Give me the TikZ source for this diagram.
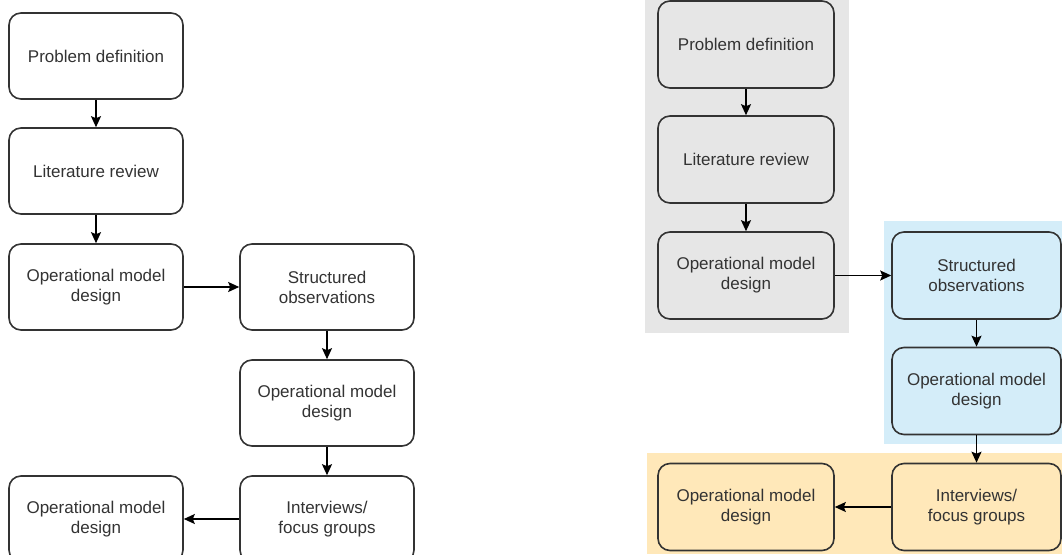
\documentclass[tikz,border=0pt]{standalone}
\usepackage{fontspec}
\setmainfont{Liberation Sans}
\usetikzlibrary{arrows.meta}

\definecolor{inkgray}{HTML}{333333}
\definecolor{bggray}{HTML}{E6E6E6}
\definecolor{bgblue}{HTML}{D4EDF9}
\definecolor{bgyellow}{HTML}{FFE8B9}

\tikzset{
  stepbox/.style={draw=inkgray, line width=1.6pt, rounded corners=12pt,
    text=inkgray, align=center, inner sep=0pt,
    font=\fontsize{17}{20}\selectfont},
  leftbox/.style={stepbox, minimum width=174pt, minimum height=86pt},
  rightbox/.style={stepbox, minimum width=176pt, minimum height=87pt},
  rightbox2/.style={stepbox, minimum width=169pt, minimum height=87pt},
  flow/.style={draw=black, line width=1.5pt,
    -{Stealth[length=11pt, width=10pt, inset=2pt]}},
}

\begin{document}
\begin{tikzpicture}[x=1pt, y=-1pt]
  \useasboundingbox (0,0) rectangle (1062,554);
  \clip (0,0) rectangle (1062,554);
  \fill[white] (0,0) rectangle (1062,554);

  % ---- plain version of the process ----
  \node[leftbox] (l1) at (96,56)  {Problem definition};
  \node[leftbox] (l2) at (96,171) {Literature review};
  \node[leftbox] (l3) at (96,287) {Operational model\\design};
  \node[leftbox] (l4) at (327,287) {Structured\\observations};
  \node[leftbox] (l5) at (327,403) {Operational model\\design};
  \node[leftbox] (l6) at (327,519) {Interviews/\\focus groups};
  \node[leftbox] (l7) at (96,519) {Operational model\\design};

  \draw[flow] (l1) -- (l2);
  \draw[flow] (l2) -- (l3);
  \draw[flow] (l3) -- (l4);
  \draw[flow] (l4) -- (l5);
  \draw[flow] (l5) -- (l6);
  \draw[flow] (l6) -- (l7);

  % ---- phase-shaded version ----
  \fill[bggray]   (645,0)   rectangle (849,333);
  \fill[bgblue]   (884,221) rectangle (1062,444);
  \fill[bgyellow] (647,453) rectangle (1062,554);

  \node[rightbox] (r1) at (746,44.5)  {Problem definition};
  \node[rightbox] (r2) at (746,159.5) {Literature review};
  \node[rightbox] (r3) at (746,275.5) {Operational model\\design};
  \node[rightbox2] (r4) at (976.5,275.5) {Structured\\observations};
  \node[rightbox2] (r5) at (976.5,391)   {Operational model\\design};
  \node[rightbox2] (r6) at (976.5,507)   {Interviews/\\focus groups};
  \node[rightbox] (r7) at (746,507)     {Operational model\\design};

  \draw[flow] (r1) -- (r2);
  \draw[flow] (r2) -- (r3);
  \draw[flow] (r3) -- (r4);
  \draw[flow] (r4) -- (r5);
  \draw[flow] (r5) -- (r6);
  \draw[flow] (r6) -- (r7);
\end{tikzpicture}
\end{document}
